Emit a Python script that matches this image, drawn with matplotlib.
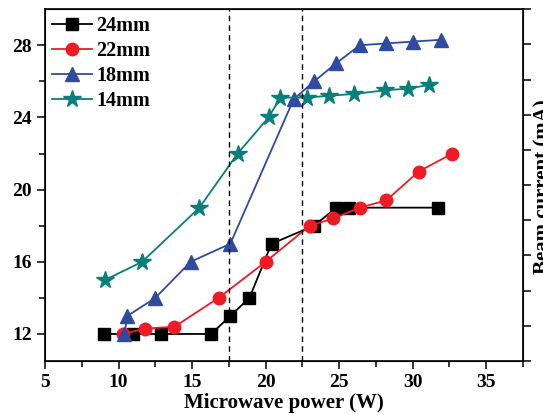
import matplotlib
matplotlib.use('Agg')
import matplotlib.pyplot as plt

plt.rcParams['font.family'] = 'Liberation Serif'
plt.rcParams['font.weight'] = 'bold'

# 24mm
x24 = [9.0, 11.0, 12.9, 16.3, 17.6, 18.9, 20.4, 23.3, 24.8, 25.7, 31.7]
y24 = [12, 12, 12, 12, 13, 14, 17, 18, 19, 19, 19]
# 22mm
x22 = [10.3, 11.8, 13.8, 16.8, 20.0, 23.0, 24.6, 26.4, 28.2, 30.4, 32.7]
y22 = [12.0, 12.3, 12.4, 14, 16, 18, 18.4, 19, 19.4, 21, 22]
# 18mm
x18 = [10.4, 10.6, 12.5, 14.9, 17.6, 21.9, 23.3, 24.8, 26.4, 28.2, 30.0, 31.9]
y18 = [12, 13, 14, 16, 17, 25, 26, 27, 28, 28.1, 28.2, 28.3]
# 14mm
x14 = [9.1, 11.6, 15.5, 18.1, 20.2, 21.0, 22.8, 24.3, 26.0, 28.1, 29.7, 31.1]
y14 = [15, 16, 19, 22, 24, 25.1, 25.1, 25.2, 25.3, 25.5, 25.6, 25.8]

vlines = [17.5, 22.5]

fig = plt.figure(figsize=(5.43, 4.15), dpi=100)
ax = fig.add_axes([0.0829, 0.130, 0.8803, 0.848])

ax.plot(x24, y24, color='black', marker='s', ms=8, lw=1.3, label='24mm')
ax.plot(x22, y22, color='#ed1c24', marker='o', ms=9, lw=1.3, label='22mm')
ax.plot(x18, y18, color='#2f4aa0', marker='^', ms=9.5, lw=1.3, label='18mm')
ax.plot(x14, y14, color='#087f7a', marker='*', ms=13, lw=1.3, label='14mm')

for v in vlines:
    ax.axvline(v, color='black', ls=(0, (4, 3)), lw=1)

ax.set_xlim(5, 37.3)
ax.set_ylim(10.5, 30)
ax.set_xticks([5, 10, 15, 20, 25, 30, 35])
ax.set_xticks([7.5, 12.5, 17.5, 22.5, 27.5, 32.5, 37.5], minor=True)
ax.set_yticks([12, 16, 20, 24, 28])
ax.set_yticks([14, 18, 22, 26], minor=True)
ax.tick_params(which='both', direction='out', labelsize=14, width=1.1)
ax.tick_params(which='major', length=6)
ax.tick_params(which='minor', length=4)
for s in ax.spines.values():
    s.set_linewidth(1.2)
ax.set_xlabel('Microwave power (W)', fontsize=15, fontweight='bold', labelpad=1)

ax2 = ax.twinx()
ax2.set_ylim(0, 10)
ax2.set_yticks(range(0, 11))
ax2.tick_params(direction='out', length=6, width=1.1, labelright=False)
ax2.set_ylabel('Beam current (mA)', fontsize=15, fontweight='bold')
ax2.yaxis.set_label_coords(1.022, 0.495)

ax.legend(loc='upper left', frameon=False, handlelength=2.0,
          handletextpad=0.2, labelspacing=0.25, borderaxespad=0.0,
          borderpad=0.35, prop={'weight': 'bold', 'size': 14.5})

fig.savefig('out.png', dpi=100)
